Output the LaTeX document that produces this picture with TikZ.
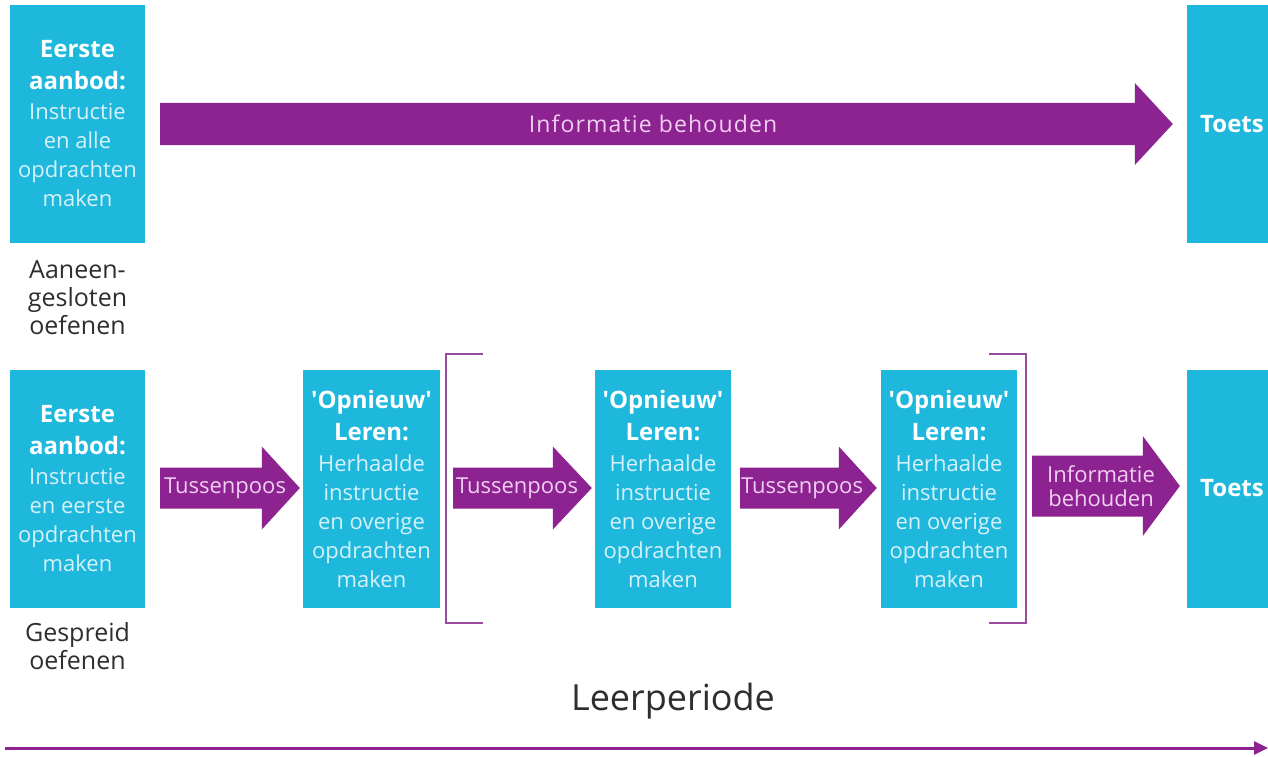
\documentclass[tikz,border=0pt]{standalone}
\usepackage{fontspec}
\setmainfont{Open Sans}
\usetikzlibrary{calc,arrows.meta}
\definecolor{cyanbox}{HTML}{1DB8DC}
\definecolor{purp}{HTML}{8C2390}
\definecolor{boxtext}{HTML}{D6F1F9}
\definecolor{arrtext}{HTML}{F2CDF2}
\definecolor{darktext}{HTML}{2E2E2E}
\definecolor{brack}{HTML}{9A4A9A}
\newcommand\hd[1]{{\color{white}\fontsize{24}{29}\selectfont\bfseries #1}}
\newcommand\opn{\textquotesingle Opnieuw\textquotesingle}
\newcommand\fatarrow[5]{%
  \fill[purp] ($(#1)+(0,-#3)$) -- ($(#2)+(-#5,-#3)$) -- ($(#2)+(-#5,-#4)$) -- (#2)
    -- ($(#2)+(-#5,#4)$) -- ($(#2)+(-#5,#3)$) -- ($(#1)+(0,#3)$) -- cycle;}
\tikzset{
  box/.style={fill=cyanbox, inner sep=0pt, align=center, text=boxtext,
    font=\fontsize{22}{29}\selectfont},
  arrlabel/.style={text=arrtext, inner sep=0pt, align=center,
    font=\fontsize{22}{24}\selectfont},
  sidelabel/.style={text=darktext, inner sep=0pt, align=center,
    font=\fontsize{25}{28}\selectfont},
  bracket/.style={draw=brack, line width=1.6pt}
}
\begin{document}
\begin{tikzpicture}[x=1pt,y=-1pt]
\useasboundingbox[fill=white] (0,0) rectangle (1268,757);
\begin{scope}
\clip (0,0) rectangle (1268,757);
% top row
\node[box, minimum width=135pt, minimum height=238pt] (a1) at (77.5,124)
  {\hd{Eerste}\\[3pt]\hd{aanbod:}\\[1pt]Instructie\\en alle\\opdrachten\\maken};
\node[box, minimum width=90pt, minimum height=238pt] (a2) at (1232,124) {\hd{Toets}};
\coordinate (s0) at ($(a1.east)+(15,0)$);
\coordinate (e0) at ($(a2.west)+(-14,0)$);
\fatarrow{s0}{e0}{21}{41}{38}
\node[arrlabel, font=\fontsize{23}{24}\selectfont\addfontfeature{LetterSpace=5}] (l0) at (653,124) {Informatie behouden};
\node[sidelabel] (t1) at (77.5,298) {Aaneen-\\gesloten\\oefenen};

% bottom row
\node[box, minimum width=135pt, minimum height=238pt] (b1) at (77.5,489)
  {\hd{Eerste}\\[3pt]\hd{aanbod:}\\[1pt]Instructie\\en eerste\\opdrachten\\maken};
\node[box, minimum width=137pt, minimum height=238pt] (b2) at (371.5,489)
  {\hd{\opn}\\[3pt]\hd{Leren:}\\[2pt]Herhaalde\\instructie\\en overige\\opdrachten\\maken};
\node[box, minimum width=136pt, minimum height=238pt] (b3) at (663,489)
  {\hd{\opn}\\[3pt]\hd{Leren:}\\[2pt]Herhaalde\\instructie\\en overige\\opdrachten\\maken};
\node[box, minimum width=136pt, minimum height=238pt] (b4) at (949,489)
  {\hd{\opn}\\[3pt]\hd{Leren:}\\[2pt]Herhaalde\\instructie\\en overige\\opdrachten\\maken};
\node[box, minimum width=90pt, minimum height=238pt] (b5) at (1232,489) {\raisebox{2pt}{\hd{Toets}}};

\coordinate (s1) at ($(b1.east)+(15,-1)$);
\coordinate (e1) at ($(b2.west)+(-3,-1)$);
\fatarrow{s1}{e1}{20.5}{41.5}{38}
\coordinate (s2) at ($(b2.east)+(13,-1)$);
\coordinate (e2) at ($(b3.west)+(-3,-1)$);
\fatarrow{s2}{e2}{20.5}{41.5}{39}
\coordinate (s3) at ($(b3.east)+(9,-1)$);
\coordinate (e3) at ($(b4.west)+(-4,-1)$);
\fatarrow{s3}{e3}{20.5}{41.5}{38}
\coordinate (s4) at ($(b4.east)+(15,-3)$);
\coordinate (e4) at ($(b5.west)+(-7,-3)$);
\fatarrow{s4}{e4}{30.5}{50}{37}

\node[arrlabel] (l1) at (225,488) {Tussenpoos};
\node[arrlabel] (l2) at (517,488) {Tussenpoos};
\node[arrlabel] (l3) at (802,488) {Tussenpoos};
\node[arrlabel] (l4) at (1101,486) {Informatie\\behouden};

% brackets
\draw[bracket] (483,354) -- (446,354) -- (446,623) -- (483,623);
\draw[bracket] (989,354) -- (1026,354) -- (1026,623) -- (989,623);

\node[sidelabel] (t2) at (77.5,646) {Gespreid\\oefenen};

% time axis
\node[text=darktext, font=\fontsize{36}{38}\selectfont] (lp) at (673,701) {Leerperiode};
\coordinate (ax0) at (5,748);
\coordinate (ax1) at (1268,748);
\draw[purp, line width=3pt, -{Triangle[length=14pt,width=13pt]}] (ax0) -- (ax1);
\end{scope}
\end{tikzpicture}
\end{document}
